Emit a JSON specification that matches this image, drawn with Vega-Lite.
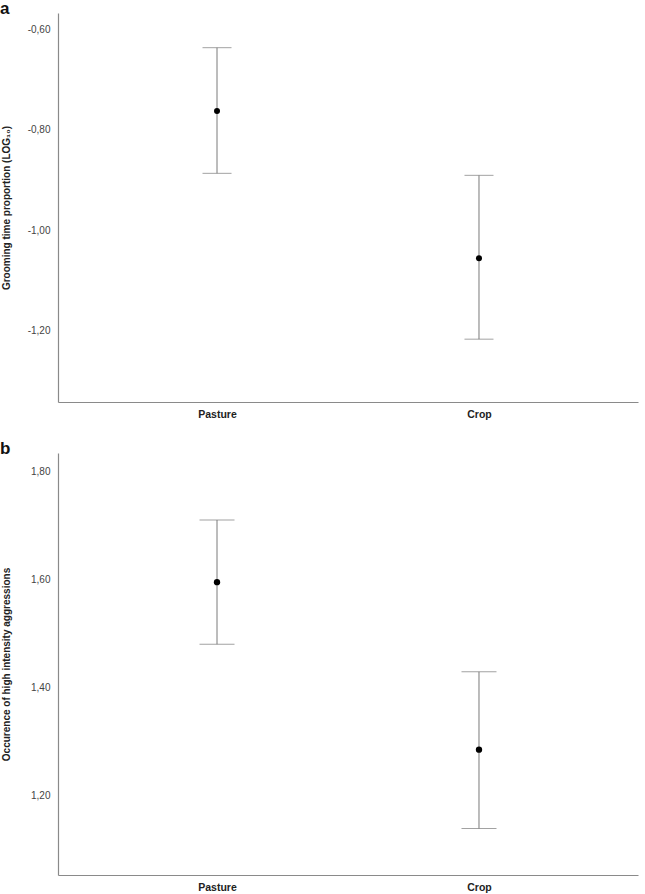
{
  "$schema": "https://vega.github.io/schema/vega-lite/v6.json",
  "padding": {"left": 0, "top": 0, "right": 5, "bottom": 5},
  "background": "white",
  "config": {
    "view": {"stroke": null},
    "font": "Liberation Sans",
    "axis": {"grid": false, "ticks": false, "domainColor": "#8a8a8a", "domainWidth": 1.2},
    "title": {"font": "Liberation Sans"}
  },
  "datasets": {
    "grooming": [
      {"habitat": "Pasture", "mean": -0.763, "lower": -0.887, "upper": -0.637},
      {"habitat": "Crop", "mean": -1.056, "lower": -1.217, "upper": -0.891}
    ],
    "aggression": [
      {"habitat": "Pasture", "mean": 1.595, "lower": 1.480, "upper": 1.710},
      {"habitat": "Crop", "mean": 1.285, "lower": 1.139, "upper": 1.429}
    ]
  },
  "spacing": 20,
  "vconcat": [
    {
      "width": 580,
      "height": 389,
      "title": {"text": "a", "anchor": "start", "frame": "group", "dx": -58, "fontSize": 17, "fontWeight": "bold", "color": "#111", "offset": -5},
      "data": {"name": "grooming"},
      "encoding": {
        "x": {"field": "habitat", "type": "nominal", "sort": ["Pasture", "Crop"], "scale": {"type": "point", "padding": 0.607},
          "axis": {"title": null, "labelAngle": 0, "labelFontWeight": "bold", "labelFontSize": 10.5, "labelColor": "#222", "labelPadding": 7}}
      },
      "layer": [
        {
          "mark": {"type": "rule", "color": "#7a7a7a", "strokeWidth": 1},
          "encoding": {
            "y": {"field": "lower", "type": "quantitative", "title": "Grooming time proportion (LOG₁₀)",
              "scale": {"domain": [-1.342, -0.568], "nice": false, "zero": false},
              "axis": {"values": [-1.2, -1.0, -0.8, -0.6], "labelExpr": "(datum.value < 0 ? '-' : '') + replace(format(abs(datum.value), '.2f'), '.', ',')",
                "labelFontSize": 10, "labelColor": "#444", "labelPadding": 8, "titleFontSize": 10, "titleFontWeight": "bold", "titleColor": "#222", "titleX": -46.5}},
            "y2": {"field": "upper"}
          }
        },
        {
          "mark": {"type": "tick", "color": "#7a7a7a", "size": 29, "thickness": 1},
          "encoding": {"y": {"field": "lower", "type": "quantitative", "title": "Grooming time proportion (LOG₁₀)"}}
        },
        {
          "mark": {"type": "tick", "color": "#7a7a7a", "size": 29, "thickness": 1},
          "encoding": {"y": {"field": "upper", "type": "quantitative", "title": "Grooming time proportion (LOG₁₀)"}}
        },
        {
          "mark": {"type": "point", "filled": true, "color": "#000", "size": 36, "opacity": 1},
          "encoding": {"y": {"field": "mean", "type": "quantitative", "title": "Grooming time proportion (LOG₁₀)"}}
        }
      ]
    },
    {
      "width": 580,
      "height": 422,
      "title": {"text": "b", "anchor": "start", "frame": "group", "dx": -58, "fontSize": 17, "fontWeight": "bold", "color": "#111", "offset": -5},
      "data": {"name": "aggression"},
      "encoding": {
        "x": {"field": "habitat", "type": "nominal", "sort": ["Pasture", "Crop"], "scale": {"type": "point", "padding": 0.607},
          "axis": {"title": null, "labelAngle": 0, "labelFontWeight": "bold", "labelFontSize": 10.5, "labelColor": "#222", "labelPadding": 7}}
      },
      "layer": [
        {
          "mark": {"type": "rule", "color": "#7a7a7a", "strokeWidth": 1},
          "encoding": {
            "y": {"field": "lower", "type": "quantitative", "title": "Occurence of high intensity aggressions",
              "scale": {"domain": [1.053, 1.834], "nice": false, "zero": false},
              "axis": {"values": [1.2, 1.4, 1.6, 1.8], "labelExpr": "(datum.value < 0 ? '-' : '') + replace(format(abs(datum.value), '.2f'), '.', ',')",
                "labelFontSize": 10, "labelColor": "#444", "labelPadding": 8, "titleFontSize": 10, "titleFontWeight": "bold", "titleColor": "#222", "titleX": -46.5}},
            "y2": {"field": "upper"}
          }
        },
        {
          "mark": {"type": "tick", "color": "#7a7a7a", "size": 35, "thickness": 1},
          "encoding": {"y": {"field": "lower", "type": "quantitative", "title": "Occurence of high intensity aggressions"}}
        },
        {
          "mark": {"type": "tick", "color": "#7a7a7a", "size": 35, "thickness": 1},
          "encoding": {"y": {"field": "upper", "type": "quantitative", "title": "Occurence of high intensity aggressions"}}
        },
        {
          "mark": {"type": "point", "filled": true, "color": "#000", "size": 40, "opacity": 1},
          "encoding": {"y": {"field": "mean", "type": "quantitative", "title": "Occurence of high intensity aggressions"}}
        }
      ]
    }
  ]
}
